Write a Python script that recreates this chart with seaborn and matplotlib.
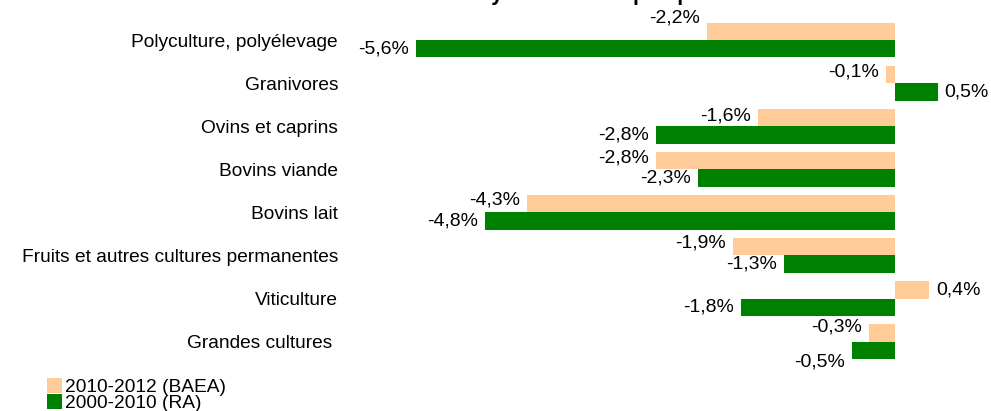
import pandas as pd
import seaborn as sns
import matplotlib.pyplot as plt
from matplotlib.patches import Patch

# data
orientations = ["Polyculture, polyélevage", "Granivores", "Ovins et caprins",
                "Bovins viande", "Bovins lait", "Fruits et autres cultures permanentes",
                "Viticulture", "Grandes cultures "]
evol_baea = [-2.2, -0.1, -1.6, -2.8, -4.3, -1.9, 0.4, -0.3]   # 2010-2012 (BAEA)
evol_ra = [-5.6, 0.5, -2.8, -2.3, -4.8, -1.3, -1.8, -0.5]     # 2000-2010 (RA)
periodes = ["2010-2012 (BAEA)", "2000-2010 (RA)"]
couleurs = ["#FFCC99", "#008000"]
titre = "Evolution annuelle moyenne de l'emploi par orientation"

df = pd.DataFrame({
    "orientation": orientations * 2,
    "evolution": evol_baea + evol_ra,
    "periode": [periodes[0]] * len(orientations) + [periodes[1]] * len(orientations),
})

sns.set_theme(style="white")
plt.rcParams["font.family"] = ["Liberation Sans", "DejaVu Sans"]
plt.rcParams["text.color"] = "black"

fig = plt.figure(figsize=(9.91, 4.11), dpi=100)
ax = fig.add_axes([0.3481, 0.1162, 0.6519, 0.8389])

sns.barplot(data=df, y="orientation", x="evolution", hue="periode",
            hue_order=periodes, palette=couleurs, orient="h", width=0.81,
            errorbar=None, saturation=1, legend=False, linewidth=0, ax=ax)

ax.set_xlim(-6.433, 1.123)
ax.set_xlabel("")
ax.set_ylabel("")
ax.set_xticks([])
ax.tick_params(axis="y", length=0, pad=5, labelsize=13.8, labelcolor="black")
sns.despine(ax=ax, left=True, bottom=True)

# small vertical nudges (points) so labels sit like in the reference
nudges = [[9.5, 2, 1, 2, 3, 3, 0, 4.5], [0, 0, 0, 0, 0, 0, 0, -8.5]]
for cont, vals, dy in zip(ax.containers, [evol_baea, evol_ra], nudges):
    labs = [f"{v:.1f}%".replace(".", ",") for v in vals]
    anns = ax.bar_label(cont, labels=labs, padding=5, fontsize=14, color="black")
    for a, d in zip(anns, dy):
        x0, y0 = a.xyann
        a.xyann = (x0, y0 + d)

handles = [Patch(facecolor=c, edgecolor="none", label=p) for c, p in zip(couleurs, periodes)]
fig.legend(handles=handles, loc="upper left", bbox_to_anchor=(47 / 991, 1 - 378 / 411),
           frameon=False, fontsize=13.8, labelcolor="black", borderpad=0, borderaxespad=0,
           handlelength=0.8, handleheight=0.8, handletextpad=0.15, labelspacing=-0.1)

# title sits above the visible area, only its descenders show
fig.text(261 / 991, 1.0, titre, ha="left", va="baseline", fontsize=15.5,
         fontweight="bold")

fig.savefig("out.png", dpi=100)
